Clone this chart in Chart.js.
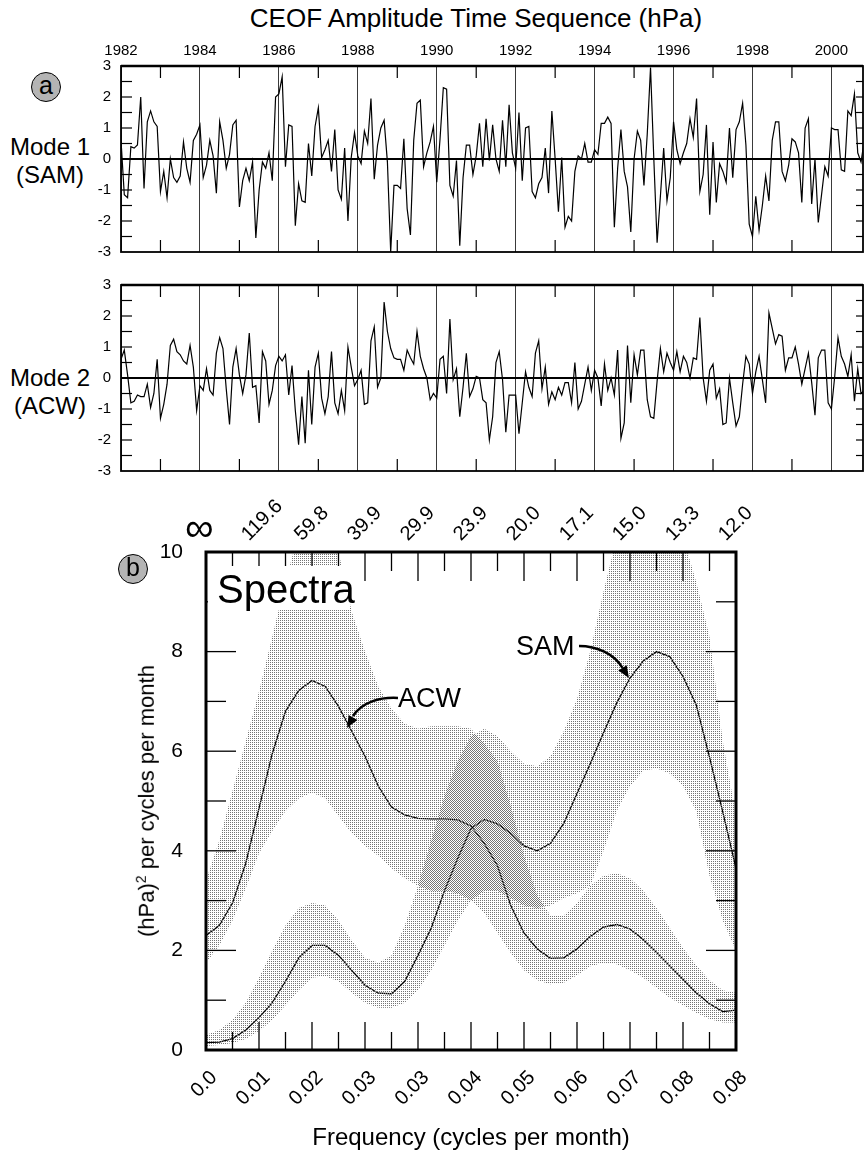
<!DOCTYPE html>
<html><head><meta charset="utf-8">
<script src="https://cdn.jsdelivr.net/npm/chart.js@4.4.1/dist/chart.umd.min.js"></script>
<style>
html,body{margin:0;padding:0;background:#fff;}
body{width:864px;height:1150px;position:relative;overflow:hidden;font-family:"Liberation Sans",Arial,Helvetica,sans-serif;color:#000;}
canvas{position:absolute;left:0;}
.t{position:absolute;white-space:nowrap;line-height:1;}
.circ{position:absolute;width:28px;height:28px;border:1.5px solid #000;border-radius:50%;background:#b4b4b4;font-size:25px;text-align:center;line-height:25px;}
</style></head><body>
<div class="t" style="left:0;width:952px;text-align:center;top:5px;font-size:26px;">CEOF Amplitude Time Sequence (hPa)</div>
<div class="circ" style="left:31px;top:72px;">a</div>
<div class="t" style="left:0;width:100px;text-align:center;top:135px;font-size:24px;">Mode 1</div>
<div class="t" style="left:0;width:100px;text-align:center;top:163px;font-size:24px;">(SAM)</div>
<div class="t" style="left:0;width:100px;text-align:center;top:366px;font-size:24px;">Mode 2</div>
<div class="t" style="left:0;width:100px;text-align:center;top:394px;font-size:24px;">(ACW)</div>
<canvas id="c1" width="864" height="260" style="top:0"></canvas>
<canvas id="c2" width="864" height="210" style="top:270px"></canvas>
<canvas id="c3" width="864" height="660" style="top:490px"></canvas>
<div class="circ" style="left:118px;top:554px;">b</div>
<div class="t" id="inf" style="left:185px;top:507px;font-size:40px;"></div>
<div class="t" style="left:208px;top:566px;width:142px;height:44px;background:#fff;"><span style="position:absolute;left:9px;top:3px;font-size:40px;">Spectra</span></div>
<div class="t" style="left:398px;top:685px;font-size:27px;">ACW</div>
<div class="t" style="left:516px;top:633px;font-size:27px;">SAM</div>
<div class="t" style="left:146px;top:801px;font-size:22px;transform:translate(-50%,-50%) rotate(-90deg);">(hPa)<sup style="font-size:14px;">2</sup> per cycles per month</div>
<div class="t" style="left:0;width:942px;text-align:center;top:1125px;font-size:24px;">Frequency (cycles per month)</div>
<svg style="position:absolute;left:0;top:0;" width="864" height="1150">
<path d="M398,698 C380,697 362,702 353,716" fill="none" stroke="#000" stroke-width="2.5"/>
<polygon points="347,728 357.4,720.1 348.6,715.1" fill="#000"/>
<path d="M579,646 C597,646 614,654 622.5,667.9" fill="none" stroke="#000" stroke-width="2.5"/>
<polygon points="629,678 626.7,665.2 618.3,670.6" fill="#000"/>
</svg>
<script>
// ---------- Panel (a) data: monthly CEOF amplitudes from Jan 1982 ----------
const startYear = 1982;
const yearTicks = [1982,1984,1986,1988,1990,1992,1994,1996,1998,2000];
const oddYears = [1983,1985,1987,1989,1991,1993,1995,1997,1999];
const ampTicks = [-3,-2,-1,0,1,2,3];
const ampMinor = [-2.5,-2,-1.5,-1,-0.5,0.5,1,1.5,2,2.5];
const samAmp = [0.6,-1.15,-1.25,0.4,0.35,0.45,2.0,-0.95,1.2,1.55,1.2,1.05,
-1.05,-0.4,-1.25,0.0,-0.6,-0.75,-0.55,0.55,-0.3,-0.75,0.6,0.8,
1.1,-0.6,-0.2,0.6,0.1,-1.1,1.2,0.6,-0.3,0.15,1.1,1.25,
-1.55,-0.7,-0.3,-0.7,-0.1,-2.55,-1.0,-0.1,-0.3,0.2,-0.7,2.0,
2.1,2.65,-0.25,1.1,1.05,-2.15,-0.8,-1.35,-1.4,0.5,-0.55,1.05,
1.65,0.05,0.3,0.6,-0.4,0.95,-1.0,-1.3,0.35,-2.0,0.05,0.85,
0.1,-0.15,0.9,0.5,1.95,-0.65,0.45,1.0,1.25,-0.1,-3.0,-0.85,
-0.85,-0.95,0.65,-1.6,-2.45,0.6,1.8,1.9,-0.25,0.2,0.55,1.05,
-0.75,0.65,2.3,2.25,-0.85,-1.2,-0.05,-2.8,-0.6,0.45,0.45,-0.5,
0.1,1.15,-0.25,1.3,-0.05,1.1,0.0,-0.4,1.25,-0.25,1.75,0.2,
-0.3,1.5,-0.7,1.0,1.05,-1.05,-1.25,-0.8,-0.6,0.35,-1.1,1.55,
0.0,-1.7,0.05,-2.2,-1.85,-2.0,-0.4,0.1,0.0,0.5,-0.1,-0.1,
0.3,0.15,1.15,1.15,1.35,1.15,-2.2,-0.3,0.95,-0.4,-0.9,-2.35,
0.0,0.9,0.6,-0.85,0.8,2.95,0.0,-2.7,-1.2,0.35,-1.35,-0.6,
1.2,0.3,-0.15,0.2,0.5,1.3,0.7,1.95,-1.05,-0.5,1.1,-1.8,
0.55,-1.4,-0.15,-0.4,-0.75,1.0,-0.6,0.95,1.2,1.8,0.45,-2.1,
-2.5,-1.2,-2.3,-1.5,-0.55,-1.35,0.6,1.2,1.2,-0.4,-0.7,-0.2,
0.65,0.55,0.2,-1.4,1.0,1.3,-1.45,0.0,-2.05,-1.15,-0.25,-0.55,
1.0,0.95,0.95,-0.35,-0.4,1.55,1.4,2.1,0.2,-0.1,0.6];
const acwAmp = [0.6,0.9,0.1,-0.8,-0.75,-0.55,-0.6,-0.6,-0.2,-0.95,-0.5,0.6,
-1.3,-0.85,-0.2,1.05,1.25,0.85,0.75,0.55,0.45,1.05,0.35,-1.05,
-0.25,-0.4,0.3,-0.4,-0.55,0.8,1.3,0.95,-0.35,-1.5,0.35,0.95,
0.1,-0.5,0.1,1.45,-0.3,-0.25,-1.45,0.85,0.55,-0.85,-0.4,0.4,
0.7,0.55,0.75,-0.55,0.4,-1.05,-2.15,-0.6,-2.1,0.25,-1.5,0.35,
0.8,-0.65,-1.15,-0.6,0.85,-0.8,-1.15,-0.4,-1.05,1.0,0.35,-0.25,
-0.05,0.25,-0.85,-0.8,1.2,1.65,-0.3,0.0,2.45,1.5,0.95,0.65,
0.6,0.6,0.25,0.9,0.65,0.45,1.5,0.7,0.3,0.0,-0.7,-0.5,
-0.65,0.6,0.7,-0.5,1.9,-0.05,0.3,-1.25,-0.3,0.8,-0.6,-0.35,
0.05,0.0,-0.7,-0.8,-2.0,-1.25,0.5,0.85,-0.05,-1.75,-0.55,-0.55,
-0.55,-1.8,-0.8,0.2,-0.3,-0.6,0.8,1.2,-0.35,0.35,-0.85,-0.45,
-0.7,-0.3,-0.55,-0.15,-0.15,-0.8,0.5,-1.0,-0.75,-0.2,0.35,-0.4,
0.25,0.0,-0.9,0.45,-0.4,0.0,-0.55,0.9,-1.95,-1.45,1.05,-0.8,
0.75,0.1,0.9,0.9,-0.7,-1.25,-1.3,-0.1,0.95,0.2,0.8,0.5,
0.25,0.85,0.2,0.7,0.5,0.0,0.65,0.6,1.95,0.0,-0.75,0.25,
0.45,-0.65,-0.35,-1.5,-1.45,0.0,-0.8,-1.55,-1.25,-0.2,0.7,0.45,
-0.5,0.2,0.7,-0.05,-0.8,2.1,1.6,1.1,1.4,1.35,0.25,0.65,
0.65,1.0,0.45,-0.2,0.3,0.8,-0.15,-1.2,0.65,0.9,0.9,-0.8,
-1.0,0.05,1.3,0.7,0.45,0.05,0.75,-0.75,0.3,-0.5,-0.4];

// ---------- Panel (b) data: spectra on an even frequency grid ----------
const freqMax = 0.0836;          // cycles per month (period 12.0 months)
const nFreq = 41;
const freqTickLabels = ['0.0','0.01','0.02','0.03','0.03','0.04','0.05','0.06','0.07','0.08','0.08'];
const periodTickLabels = ['\u221E','119.6','59.8','39.9','29.9','23.9','20.0','17.1','15.0','13.3','12.0'];
const specTicks = [0,2,4,6,8,10];
const acwSpec = [2.3,2.5,2.95,3.75,4.85,5.95,6.8,7.22,7.42,7.3,6.9,6.4,5.9,5.3,4.88,4.72,4.65,4.64,4.64,4.62,4.5,4.15,3.7,2.9,2.35,2.03,1.84,1.85,2.03,2.28,2.47,2.52,2.43,2.22,1.96,1.69,1.42,1.15,0.93,0.77,0.8];
const samSpec = [0.15,0.16,0.23,0.4,0.65,0.95,1.38,1.85,2.1,2.1,1.9,1.6,1.3,1.14,1.13,1.38,1.9,2.45,3.2,3.85,4.45,4.63,4.54,4.35,4.1,4.0,4.15,4.55,5.15,5.75,6.37,6.97,7.47,7.81,8.0,7.9,7.5,6.93,5.88,4.78,3.65];
const acwHi = [3.4,4.2,5.2,6.2,7.2,8.3,9.4,10.4,10.8,10.6,10.0,8.8,8.0,7.3,6.85,6.55,6.45,6.5,6.5,6.5,6.45,6.15,5.8,4.9,3.9,3.1,2.7,2.7,2.95,3.3,3.5,3.55,3.45,3.2,2.85,2.45,2.05,1.7,1.4,1.2,1.15];
const acwLo = [1.75,2.1,2.6,3.25,3.95,4.4,4.8,5.05,5.17,5.05,4.7,4.35,4.1,3.9,3.65,3.45,3.3,3.2,3.2,3.15,3.0,2.75,2.35,1.95,1.6,1.4,1.32,1.35,1.5,1.68,1.75,1.72,1.6,1.45,1.25,1.05,0.9,0.75,0.62,0.55,0.55];
const samHi = [0.3,0.4,0.6,0.95,1.45,2.0,2.5,2.85,2.95,2.9,2.6,2.2,1.85,1.75,1.9,2.5,3.3,4.2,5.1,5.8,6.3,6.45,6.3,6.0,5.75,5.7,5.9,6.4,7.05,8.0,9.2,10.3,10.9,11.2,11.2,10.9,10.3,9.4,8.3,6.2,4.7];
const samLo = [0.08,0.1,0.14,0.22,0.38,0.6,0.9,1.2,1.45,1.48,1.38,1.15,0.95,0.85,0.85,0.95,1.2,1.6,2.1,2.6,3.0,3.2,3.2,3.05,2.9,2.85,2.9,3.05,3.15,3.3,4.0,4.8,5.3,5.6,5.66,5.55,5.3,4.8,3.5,2.6,2.0];

const FONT = '"Liberation Sans", Arial, Helvetica, sans-serif';
Chart.defaults.font.family = FONT;
Chart.defaults.color = '#000';

const framePlugin = {
  id: 'frame',
  afterDatasetsDraw(chart, args, opts) {
    if (!opts || !opts.lw) return;
    const {ctx, chartArea: a} = chart;
    ctx.save();
    ctx.strokeStyle = '#000';
    (opts.marks || []).forEach(m => {
      const sc = chart.scales[m.scale];
      ctx.lineWidth = m.lw || 1;
      m.values.forEach(v => {
        const len = typeof m.len === 'function' ? m.len(v) : m.len;
        const p = sc.getPixelForValue(v);
        ctx.beginPath();
        if (m.side === 'top') { ctx.moveTo(p, a.top); ctx.lineTo(p, a.top + len); }
        else if (m.side === 'bottom') { ctx.moveTo(p, a.bottom); ctx.lineTo(p, a.bottom - len); }
        else if (m.side === 'left') { ctx.moveTo(a.left, p); ctx.lineTo(a.left + len, p); }
        else { ctx.moveTo(a.right, p); ctx.lineTo(a.right - len, p); }
        ctx.stroke();
      });
    });
    ctx.lineWidth = opts.lw;
    ctx.strokeRect(a.left, a.top, a.right - a.left, a.bottom - a.top);
    if (opts.topLw) {
      ctx.lineWidth = opts.topLw;
      ctx.beginPath(); ctx.moveTo(a.left, a.top); ctx.lineTo(a.right, a.top); ctx.stroke();
    }
    ctx.restore();
  }
};
Chart.register(framePlugin);

function zeroPad(s) { s.paddingLeft = 0; s.paddingRight = 0; s.paddingTop = 0; s.paddingBottom = 0; }

function ampChart(id, values, isTop) {
  const pts = values.map((v, i) => ({x: startYear + i / 12, y: v}));
  return new Chart(document.getElementById(id), {
    type: 'line',
    data: {datasets: [{data: pts, borderColor: '#000', borderWidth: 1.2, pointRadius: 0, tension: 0, fill: false}]},
    options: {
      responsive: false, animation: false, devicePixelRatio: 1,
      layout: {padding: {left: 0, right: 1, top: isTop ? 0 : 15, bottom: isTop ? 8 : 0}},
      plugins: {legend: {display: false}, tooltip: {enabled: false},
        frame: {lw: 1.8, topLw: 2.6, marks: [
          {scale: 'x', side: 'top', values: oddYears, len: 12, lw: 1.2},
          {scale: 'x', side: 'bottom', values: oddYears, len: 12, lw: 1.2},
          {scale: 'y', side: 'left', values: ampMinor, len: 11, lw: 1.2},
          {scale: 'y', side: 'right', values: ampMinor, len: 7, lw: 1.2}
        ]}},
      scales: {
        x: {type: 'linear', position: isTop ? 'top' : 'bottom', min: startYear, max: 2000.8,
          afterBuildTicks: s => { s.ticks = yearTicks.map(v => ({value: v})); },
          afterFit: s => { s.height = isTop ? 66 : 9; zeroPad(s); },
          grid: {display: true, drawOnChartArea: true, drawTicks: false, color: '#3a3a3a', lineWidth: 1},
          border: {display: false},
          ticks: {display: isTop, autoSkip: false, font: {size: 15}, color: '#000', padding: 6,
            maxRotation: 0, minRotation: 0, callback: v => String(v)}},
        y: {type: 'linear', min: -3, max: 3,
          afterBuildTicks: s => { s.ticks = ampTicks.map(v => ({value: v})); },
          afterFit: s => { s.width = 121; zeroPad(s); },
          grid: {drawTicks: false, color: c => (c.tick && c.tick.value === 0) ? '#000' : 'rgba(0,0,0,0)',
            lineWidth: c => (c.tick && c.tick.value === 0) ? 2 : 0},
          border: {display: false},
          ticks: {font: {size: 15}, color: '#000', padding: 10, callback: v => String(v)}}
      }
    }
  });
}
ampChart('c1', samAmp, true);
ampChart('c2', acwAmp, false);

// ---------- Panel (b) ----------
function dotPattern(dx, dy) {
  const c = document.createElement('canvas'); c.width = 2; c.height = 2;
  const g = c.getContext('2d'); g.fillStyle = '#747474'; g.fillRect(dx, dy, 1, 1);
  return document.getElementById('c3').getContext('2d').createPattern(c, 'repeat');
}
const freqs = []; for (let i = 0; i < nFreq; i++) freqs.push(i * freqMax / (nFreq - 1));
const freqTickVals = freqTickLabels.map((_, k) => k * freqMax / 10);
const halfTickVals = []; for (let k = 0; k < 10; k++) halfTickVals.push((k + 0.5) * freqMax / 10);
const toPts = arr => arr.map((v, i) => ({x: freqs[i], y: v}));
const band = (data, fill, bg) => ({data: toPts(data), fill: fill, backgroundColor: bg, borderColor: 'rgba(0,0,0,0)', borderWidth: 0, pointRadius: 0, tension: 0, xAxisID: 'x'});
const curve = data => ({data: toPts(data), fill: false, borderColor: '#000', borderWidth: 1.3, pointRadius: 0, tension: 0, xAxisID: 'x'});

document.getElementById('inf').textContent = periodTickLabels[0];

new Chart(document.getElementById('c3'), {
  type: 'line',
  data: {datasets: [
    band(acwHi, '+1', dotPattern(0, 0)), band(acwLo, false, 'rgba(0,0,0,0)'),
    band(samHi, '+1', dotPattern(1, 1)), band(samLo, false, 'rgba(0,0,0,0)'),
    curve(acwSpec), curve(samSpec)
  ]},
  options: {
    responsive: false, animation: false, devicePixelRatio: 1,
    layout: {padding: {left: 0, right: 128, top: 0, bottom: 0}},
    plugins: {legend: {display: false}, tooltip: {enabled: false},
      frame: {lw: 3, marks: [
        {scale: 'x', side: 'bottom', values: freqTickVals.slice(1, 10), len: 28, lw: 1.3},
        {scale: 'x', side: 'bottom', values: halfTickVals, len: 18, lw: 1.3},
        {scale: 'x', side: 'top', values: freqTickVals.slice(1, 10), len: v => v < 2.9 * freqMax / 10 ? 14 : 29, lw: 1.3},
        {scale: 'x', side: 'top', values: halfTickVals, len: v => v < 2.9 * freqMax / 10 ? 14 : 19, lw: 1.3},
        {scale: 'y', side: 'left', values: [2,4,6,8], len: 30, lw: 1.3},
        {scale: 'y', side: 'left', values: [1,3,5,7,9], len: 20, lw: 1.3},
        {scale: 'y', side: 'right', values: [2,4,6,8], len: 30, lw: 1.3},
        {scale: 'y', side: 'right', values: [1,3,5,7,9], len: 20, lw: 1.3}
      ]}},
    scales: {
      x: {type: 'linear', position: 'bottom', min: 0, max: freqMax,
        afterBuildTicks: s => { s.ticks = freqTickVals.map(v => ({value: v})); },
        afterFit: s => { s.height = 100; zeroPad(s); },
        grid: {display: false, drawTicks: false}, border: {display: false},
        ticks: {autoSkip: false, minRotation: 45, maxRotation: 45, font: {size: 20}, color: '#000', padding: 16, labelOffset: 8,
          callback: (v, i) => freqTickLabels[i]}},
      xTop: {type: 'linear', position: 'top', min: 0, max: freqMax,
        afterBuildTicks: s => { s.ticks = freqTickVals.map(v => ({value: v})); },
        afterFit: s => { s.height = 62; zeroPad(s); },
        grid: {display: false, drawTicks: false}, border: {display: false},
        ticks: {autoSkip: false, minRotation: 45, maxRotation: 45, font: {size: 20}, color: '#000', padding: 6, labelOffset: 3,
          callback: (v, i) => i === 0 ? '' : periodTickLabels[i]}},
      y: {type: 'linear', min: 0, max: 10,
        afterBuildTicks: s => { s.ticks = specTicks.map(v => ({value: v})); },
        afterFit: s => { s.width = 206; zeroPad(s); },
        grid: {display: false, drawTicks: false}, border: {display: false},
        ticks: {font: {size: 21}, color: '#000', padding: 23, callback: v => String(v)}}
    }
  }
});
</script>
</body></html>
